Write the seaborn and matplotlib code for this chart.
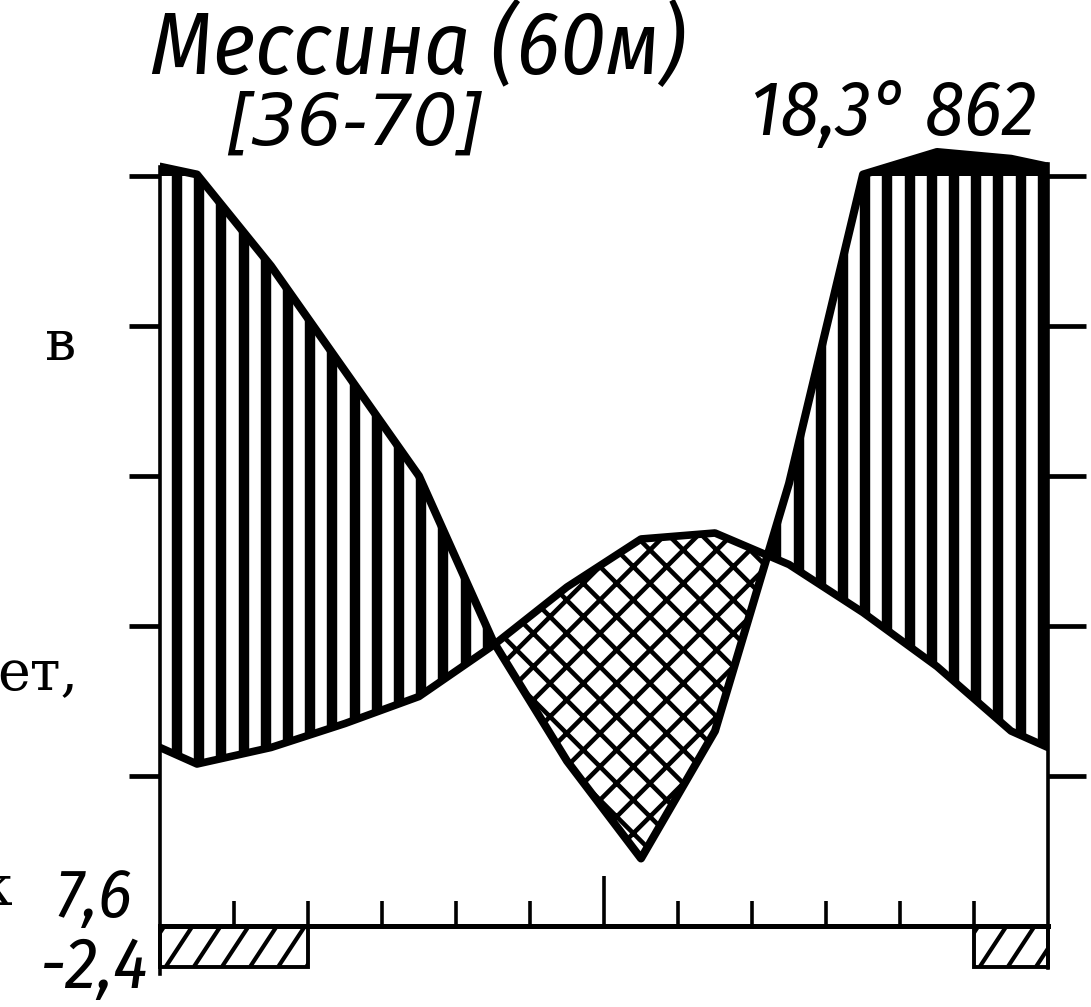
import numpy as np
import matplotlib
matplotlib.use("Agg")
import matplotlib.pyplot as plt
from matplotlib.collections import LineCollection
from matplotlib.patches import PathPatch
from matplotlib.path import Path
import seaborn as sns

# Walter-Lieth climate diagram, Messina (60 m)
months = np.arange(1, 13)
temp = [10.8, 11.9, 13.5, 15.3, 18.7, 22.6, 25.8, 26.2, 24.1, 20.9, 17.3, 13.0]   # deg C
precip = [102, 88, 74, 60, 38, 22, 9, 26, 59, 102, 132, 123]                     # mm
frost = [1, 1, 0, 0, 0, 0, 0, 0, 0, 0, 0, 1]      # months with absolute minimum < 0
station = "Мессина (60м)"
period = "[36-70]"
annual = "18,3° 862"
mean_min = "7,6"
abs_min = "-2,4"
side_words = ["в", "ет,", "к"]    # cut words of the neighbouring book text

plt.rcParams['hatch.linewidth'] = 3.3
plt.rcParams['hatch.color'] = 'black'

hand = ['Fira Sans Condensed', 'DejaVu Sans']


def p_scale(p):
    # 20 mm = 10 deg C, above 100 mm the scale is reduced tenfold
    p = np.asarray(p, dtype=float)
    return np.where(p <= 100, p / 2, 50 + (p - 100) / 20)


W, H = 1091, 1007
fig = plt.figure(figsize=(W / 100, H / 100), dpi=100)

# axes box in pixels: x 0..12 -> 160..1048, y: 0 deg at 926 px, 15 px per deg
x_left, x_right, y_zero, ppu = 160, 1048, 926, 15
ylo, yhi = -3.3, 52
ax = fig.add_axes([x_left / W, (H - (y_zero - ylo * ppu)) / H,
                   (x_right - x_left) / W, (yhi - ylo) * ppu / H])

# curves, closed at the edges with the Dec/Jan mean
xe = np.r_[0, months - 0.5, 12]
t_edge = (temp[0] + temp[-1]) / 2
p_edge = (precip[0] + precip[-1]) / 2
te = np.r_[t_edge, temp, t_edge]
pe = p_scale(np.r_[p_edge, precip, p_edge])

xd = np.linspace(0, 12, 2401)
td = np.interp(xd, xe, te)
pd_ = np.interp(xd, xe, pe)

# humid part: vertical stripes
humid = ax.fill_between(xd, td, np.minimum(pd_, 50), where=pd_ >= td,
                        interpolate=True, facecolor='none', linewidth=0)
clip = PathPatch(Path.make_compound_path(*humid.get_paths()),
                 transform=ax.transData, facecolor='none', edgecolor='none')
ax.add_patch(clip)
stripes = ax.vlines(np.arange(0.23, 12, 0.3), 0, 51, colors='k', linewidth=7.5)
stripes.set_clip_path(clip)

# arid part: cross hatching
ax.fill_between(xd, pd_, td, where=td > pd_, interpolate=True,
                facecolor='white', edgecolor='k', hatch='x', linewidth=0)

# above 100 mm: solid black
ax.fill_between(xd, 50, pd_, where=pd_ > 50, interpolate=True,
                color='k', linewidth=0)

sns.lineplot(x=xe, y=pe, ax=ax, color='k', linewidth=5.8, sort=False,
             estimator=None, solid_joinstyle='round', solid_capstyle='round')
sns.lineplot(x=xe, y=te, ax=ax, color='k', linewidth=5.5, sort=False,
             estimator=None, solid_joinstyle='round', solid_capstyle='round')

# months with frost: one hatched box per run of months below the base line
fr = np.array(frost)
starts, lengths = [], []
i = 0
while i < len(fr):
    if fr[i]:
        j = i
        while j < len(fr) and fr[j]:
            j += 1
        starts.append(i)
        lengths.append(j - i)
        i = j
    else:
        i += 1
depth = 2.7
bars = ax.bar(starts, -depth, width=lengths, bottom=0, align='edge',
              facecolor='white', edgecolor='k', linewidth=2.8, clip_on=False)
for b in bars:
    l, w = b.get_x(), b.get_width()
    s0 = np.arange(l - 0.3, l + w, 0.38)
    segs = [[(s, -depth), (s + 0.36, 0)] for s in s0]
    lc = LineCollection(segs, colors='k', linewidths=3.0)
    ax.add_collection(lc)
    lc.set_clip_path(b)

ax.set_xlim(0, 12)
ax.set_ylim(ylo, yhi)

# frame and ticks
ax.spines['top'].set_visible(False)
ax.spines['right'].set_visible(False)
ax.spines['bottom'].set_position(('data', 0))
ax.spines['bottom'].set_linewidth(3.6)
ax.spines['left'].set_bounds(-3.2, 50.6)
ax.spines['left'].set_linewidth(2.6)
ax.set_xticks([6])
ax.set_xticks([1, 2, 3, 4, 5, 7, 8, 9, 10, 11], minor=True)
ax.tick_params(axis='x', which='major', direction='in', length=36, width=2.6,
               labelbottom=False)
ax.tick_params(axis='x', which='minor', direction='in', length=18, width=2.6)
ax.set_yticks([10, 20, 30, 40, 50])
ax.tick_params(axis='y', direction='out', length=22, width=3.4, labelleft=False)
ax.set_xlabel('')
ax.set_ylabel('')

ax2 = ax.twinx()
ax2.set_ylim(ylo, yhi)
for s in ['left', 'top', 'bottom']:
    ax2.spines[s].set_visible(False)
ax2.spines['right'].set_bounds(-2.8, 50.8)
ax2.spines['right'].set_linewidth(2.6)
ax2.set_yticks([10, 20, 30, 40, 50])
ax2.tick_params(axis='y', direction='out', length=27, width=3.4, labelright=False)


# texts
def fpos(x, y):
    return x / W, 1 - y / H


fig.text(*fpos(150, 74), station, fontsize=64, family=hand, style='italic',
         ha='left', va='baseline')
fig.text(*fpos(224, 145), period, fontsize=51, family=['DejaVu Sans'],
         style='oblique', ha='left', va='baseline')
fig.text(*fpos(750, 135), annual, fontsize=56, family=hand, style='italic',
         ha='left', va='baseline')
fig.text(*fpos(132, 917), mean_min, fontsize=50, family=hand, style='italic',
         ha='right', va='baseline')
fig.text(*fpos(149, 988), abs_min, fontsize=52, family=hand, style='italic',
         ha='right', va='baseline')

serif = ['DejaVu Serif']
fig.text(*fpos(76, 360), side_words[0], fontsize=40, family=serif,
         ha='right', va='baseline')
fig.text(*fpos(78, 690), side_words[1], fontsize=40, family=serif,
         ha='right', va='baseline')
fig.text(*fpos(12, 905), side_words[2], fontsize=40, family=serif,
         ha='right', va='baseline')

fig.savefig("out.png", dpi=100)
plt.close(fig)
